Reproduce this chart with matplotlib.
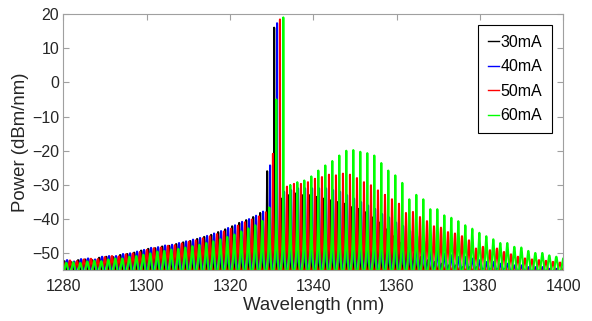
import matplotlib
matplotlib.use("Agg")
import matplotlib.pyplot as plt
import numpy as np

plt.rcParams['font.family'] = ['Liberation Sans', 'DejaVu Sans']

# Токи накачки и цвета кривых
currents = ['30mA', '40mA', '50mA', '60mA']
colors = ['#000000', '#0000ff', '#ff0000', '#00ff00']

# Длина волны генерирующей моды для каждого тока, нм
lasing_wl = [1330.6, 1331.3, 1332.0, 1332.8]
mode_spacing = 1.68   # межмодовый интервал, нм
first_mode = -31      # номер первой моды относительно генерирующей
floor_db = -56        # уровень между модами, дБм/нм

# Пиковые мощности мод (моды -31 ... +41), дБм/нм
peaks_30 = [-52.5, -52.3, -52.6, -52.0, -51.8, -52.0, -51.3, -51.0, -51.1, -50.5,
            -50.2, -49.8, -49.2, -48.7, -48.5, -48.0, -47.8, -47.3, -46.8, -46.4,
            -45.8, -45.2, -44.6, -43.8, -43.0, -42.1, -41.1, -40.3, -39.4, -38.2,
            -26.0, 16.0,
            -34.0, -33.0, -32.5, -33.0, -33.0, -33.5, -34.0, -34.5, -35.0, -35.5,
            -36.5, -37.0, -38.0, -39.5, -41.0, -43.0, -45.0, -47.0, -48.5, -50.0,
            -51.0, -52.0, -52.5, -53.0, -53.5, -53.5, -54.0, -54.0, -54.0, -54.5,
            -54.5, -54.5, -54.5, -55.0, -55.0, -55.0, -55.0, -55.0, -55.0, -55.0,
            -55.0]
peaks_40 = [-52.2, -52.0, -52.4, -51.7, -51.5, -51.8, -51.0, -50.8, -50.8, -50.2,
            -50.0, -49.5, -49.0, -48.4, -48.2, -47.7, -47.5, -47.0, -46.5, -46.0,
            -45.5, -44.9, -44.2, -43.5, -42.6, -41.8, -40.8, -40.0, -39.0, -37.8,
            -24.3, 17.3,
            -32.0, -31.5, -31.0, -31.0, -31.0, -31.0, -31.0, -31.5, -32.0, -33.0,
            -34.0, -35.0, -36.0, -37.0, -38.5, -39.5, -41.0, -42.0, -43.5, -45.0,
            -46.5, -48.0, -49.0, -50.0, -50.5, -51.0, -51.0, -51.5, -52.0, -52.5,
            -52.5, -53.0, -53.0, -53.5, -53.5, -54.0, -54.0, -54.0, -54.5, -54.5,
            -54.5]
peaks_50 = [-52.4, -52.1, -52.3, -51.8, -51.6, -51.7, -51.1, -50.8, -50.9, -50.3,
            -50.0, -49.6, -49.0, -48.5, -48.3, -47.8, -47.6, -47.1, -46.6, -46.2,
            -45.6, -45.0, -44.4, -43.6, -42.8, -41.9, -40.9, -40.1, -39.2, -38.0,
            -20.9, 18.4,
            -30.5, -29.7, -29.7, -29.2, -28.2, -27.7, -27.0, -27.2, -26.7, -27.0,
            -28.0, -29.2, -30.1, -31.6, -32.9, -34.2, -35.5, -38.2, -37.9, -39.4,
            -40.6, -42.1, -42.5, -43.8, -44.2, -45.0, -46.2, -48.6, -48.1, -49.1,
            -48.6, -49.6, -50.3, -51.0, -51.5, -51.8, -52.0, -52.2, -52.5, -52.7,
            -53.0]
peaks_60 = [-52.8, -52.6, -52.8, -52.4, -52.2, -52.3, -51.8, -51.5, -51.5, -51.0,
            -50.8, -50.4, -50.0, -49.5, -49.3, -48.9, -48.7, -48.3, -47.9, -47.5,
            -47.0, -46.5, -45.9, -45.2, -44.5, -43.6, -42.7, -41.8, -40.5, -36.6,
            -5.0, 19.0,
            -30.0, -29.2, -28.7, -27.5, -25.8, -24.3, -23.0, -21.4, -20.0, -19.8,
            -20.3, -20.7, -21.4, -23.6, -25.8, -27.2, -29.4, -34.2, -32.9, -34.2,
            -37.1, -37.1, -38.9, -39.6, -40.6, -41.8, -42.8, -44.0, -45.0, -45.9,
            -47.0, -47.0, -48.1, -48.3, -49.3, -49.9, -49.9, -50.6, -51.0, -51.5,
            -52.0]
all_peaks = [peaks_30, peaks_40, peaks_50, peaks_60]


# Спектр: каждая мода рисуется профилем резонатора Фабри-Перо
def spectrum(center, peaks):
    u = np.linspace(-1, 1, 241)
    offs = 0.5 * mode_spacing * np.sign(u) * u ** 2
    s = np.sin(np.pi * offs / mode_spacing) ** 2
    floor_lin = 10 ** (floor_db / 10)
    xs, ys = [], []
    for k, p in enumerate(peaks):
        lam = center + (first_mode + k) * mode_spacing
        pk = 10 ** (p / 10)
        f = pk / floor_lin - 1
        xs.append(lam + offs)
        ys.append(10 * np.log10(pk / (1 + f * s)))
    return np.concatenate(xs), np.concatenate(ys)


fig = plt.figure(figsize=(5.92, 3.21), dpi=100)
ax = fig.add_axes([63.3 / 592, 1 - 270.4 / 321, 500 / 592, 256.4 / 321])

for wl, pk, c, lab in zip(lasing_wl, all_peaks, colors, currents):
    x, y = spectrum(wl, pk)
    ax.plot(x, y, color=c, lw=1.5, label=lab)

ax.set_xlim(1280, 1400)
ax.set_ylim(-55, 20)
ax.set_xticks(np.arange(1280, 1401, 20))
ax.set_yticks(np.arange(-50, 21, 10))
ax.tick_params(direction='in', top=True, right=True, length=4, width=0.8,
               color='#a0a0a0', labelcolor='#262626', labelsize=11.5)
ax.tick_params(axis='x', pad=6)
ax.tick_params(axis='y', pad=3)
for sp in ax.spines.values():
    sp.set_color('#a0a0a0')
    sp.set_linewidth(0.8)

ax.set_xlabel('Wavelength (nm)', fontsize=13.4, color='#262626', labelpad=2)
ax.set_ylabel('Power (dBm/nm)', fontsize=13.4, color='#262626', labelpad=2)

leg = ax.legend(loc='upper right', bbox_to_anchor=(0.977, 0.957), borderaxespad=0,
                fancybox=False, edgecolor='#000000', framealpha=1, fontsize=11.5,
                handlelength=0.7, handletextpad=0.1, labelspacing=0.6, borderpad=0.6)
leg.get_frame().set_linewidth(0.8)
for line in leg.get_lines():
    line.set_linewidth(1.0)

fig.savefig('out.png', dpi=100)
